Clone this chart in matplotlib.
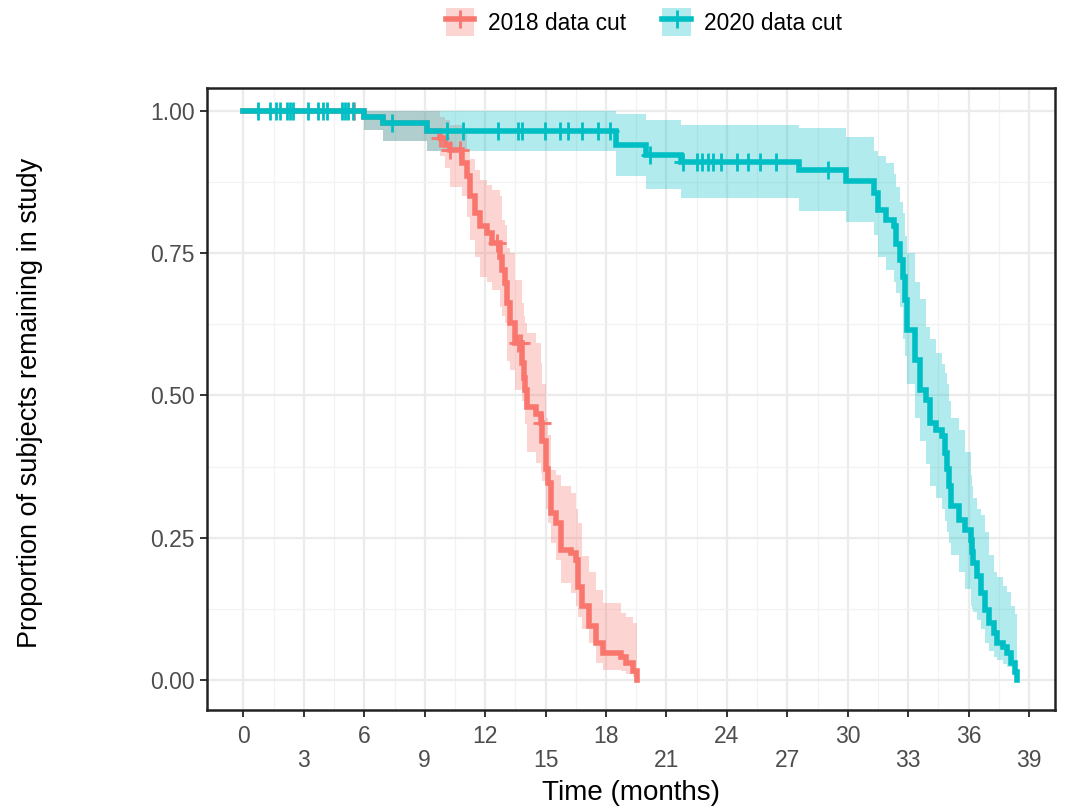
import numpy as np
import matplotlib
matplotlib.use('Agg')
import matplotlib.pyplot as plt
from matplotlib.patches import Patch
from matplotlib.lines import Line2D
from matplotlib.legend_handler import HandlerTuple

plt.rcParams['font.family'] = ['Liberation Sans', 'DejaVu Sans']

RED = '#F8766D'
TEAL = '#00BFC4'

# 2018 data cut: step times, survival, confidence limits
t18 = [0, 5.98, 6.93, 9.11, 9.75, 10.0, 10.25, 10.83, 11.08, 11.25, 11.5, 11.75, 12.08,
       12.33, 12.75, 12.83, 13.0, 13.08, 13.25, 13.5, 13.83, 13.92, 14.0, 14.08, 14.5,
       14.75, 14.83, 15.0, 15.1, 15.25, 15.5, 15.75, 16.25, 16.5, 16.6, 16.83, 17.17,
       17.5, 17.83, 18.75, 19.0, 19.35, 19.52]
s18 = [1.0, 0.99, 0.979, 0.965, 0.952, 0.94, 0.931, 0.908, 0.885, 0.85, 0.82, 0.797, 0.785,
       0.768, 0.744, 0.72, 0.697, 0.662, 0.627, 0.592, 0.557, 0.53, 0.51, 0.48, 0.468,
       0.451, 0.42, 0.37, 0.346, 0.293, 0.275, 0.228, 0.223, 0.211, 0.164, 0.129, 0.094,
       0.064, 0.047, 0.041, 0.029, 0.015, 0.0]
lo18 = [1.0, 0.967, 0.947, 0.93, 0.92, 0.90, 0.867, 0.85, 0.814, 0.773, 0.744, 0.709, 0.70,
        0.685, 0.656, 0.64, 0.627, 0.56, 0.545, 0.51, 0.49, 0.475, 0.45, 0.40, 0.381,
        0.363, 0.35, 0.30, 0.275, 0.24, 0.211, 0.17, 0.152, 0.13, 0.111, 0.09, 0.064,
        0.03, 0.018, 0.015, 0.01, 0.005, 0.005]
hi18 = [1.0, 1.0, 1.0, 1.0, 0.99, 0.985, 0.975, 0.96, 0.931, 0.915, 0.896, 0.879, 0.87,
        0.861, 0.85, 0.808, 0.80, 0.76, 0.75, 0.703, 0.662, 0.64, 0.627, 0.61, 0.592,
        0.557, 0.52, 0.46, 0.43, 0.369, 0.36, 0.34, 0.328, 0.30, 0.275, 0.217, 0.19,
        0.158, 0.135, 0.117, 0.11, 0.10, 0.10]
cens18 = [5.5, 9.77, 10.25, 10.75, 12.57, 13.64, 13.8, 14.8]

# 2020 data cut
t20 = [0, 5.98, 6.93, 9.11, 18.5, 20.0, 21.7, 27.6, 29.9, 31.3, 31.5, 31.9, 32.3, 32.4,
       32.6, 32.75, 32.85, 32.95, 33.35, 33.6, 33.9, 34.1, 34.4, 34.7, 34.85, 34.95,
       35.05, 35.15, 35.5, 35.8, 36.1, 36.15, 36.2, 36.4, 36.6, 36.8, 37.0, 37.25, 37.4,
       37.7, 37.9, 38.1, 38.3, 38.4]
s20 = [1.0, 0.99, 0.979, 0.965, 0.94, 0.923, 0.91, 0.897, 0.877, 0.855, 0.826, 0.808, 0.797,
       0.767, 0.738, 0.709, 0.668, 0.615, 0.562, 0.51, 0.492, 0.452, 0.44, 0.428, 0.399,
       0.37, 0.34, 0.305, 0.281, 0.264, 0.246, 0.225, 0.205, 0.182, 0.153, 0.123, 0.10,
       0.082, 0.065, 0.058, 0.047, 0.03, 0.014, 0.0]
lo20 = [1.0, 0.967, 0.947, 0.93, 0.886, 0.862, 0.847, 0.825, 0.805, 0.782, 0.744, 0.72, 0.70,
        0.68, 0.656, 0.60, 0.57, 0.52, 0.46, 0.42, 0.38, 0.34, 0.32, 0.30, 0.28, 0.26,
        0.24, 0.22, 0.19, 0.16, 0.13, 0.125, 0.12, 0.105, 0.09, 0.065, 0.05, 0.04, 0.035,
        0.028, 0.023, 0.023, 0.023, 0.023]
hi20 = [1.0, 1.0, 1.0, 1.0, 0.995, 0.985, 0.975, 0.97, 0.955, 0.93, 0.92, 0.908, 0.89,
        0.866, 0.84, 0.82, 0.78, 0.75, 0.70, 0.67, 0.62, 0.60, 0.575, 0.555, 0.54, 0.52,
        0.49, 0.46, 0.44, 0.40, 0.36, 0.34, 0.32, 0.30, 0.29, 0.26, 0.22, 0.19, 0.18,
        0.165, 0.155, 0.13, 0.115, 0.11]
cens20 = [0.73, 1.31, 1.61, 1.81, 2.17, 2.31, 2.47, 3.22, 3.72, 3.97, 4.13, 4.88, 5.04,
          5.21, 5.45, 7.36, 10.09, 10.91, 12.65, 13.64, 13.81, 14.97, 15.72, 16.13, 16.79,
          17.62, 18.2, 20.2, 21.8, 22.5, 22.75, 23.05, 23.3, 23.7, 24.5, 25.05, 25.65,
          26.45, 29.0]

xticks = list(range(0, 40, 3))
xlabels = [str(v) if v % 6 == 0 else '\n' + str(v) for v in xticks]
yticks = [0, 0.25, 0.5, 0.75, 1.0]
ylabels = ['0.00', '0.25', '0.50', '0.75', '1.00']

fig = plt.figure(figsize=(10.69, 8.08), dpi=100)
ax = fig.add_axes([207 / 1069, 1 - 710 / 808, 848 / 1069, 622 / 808])


def draw(t, s, lo, hi, cens, col, z):
    ax.fill_between(t, lo, hi, step='post', color=col, alpha=0.3, lw=0, zorder=z)
    ax.step(t, s, where='post', color=col, lw=4, zorder=z + 2, solid_joinstyle='miter')
    idx = np.searchsorted(t, cens, side='right') - 1
    ax.plot(cens, np.array(s)[idx], ls='none', marker='+', ms=13, mew=2,
            color=col, zorder=z + 2)


draw(t18, s18, lo18, hi18, cens18, RED, 2)
draw(t20, s20, lo20, hi20, cens20, TEAL, 3)

ax.set_xlim(-1.81, 40.29)
ax.set_ylim(-0.053, 1.0404)
ax.set_xticks(xticks)
ax.set_xticklabels(xlabels, linespacing=1.05)
ax.set_xticks(np.arange(1.5, 40, 3), minor=True)
ax.set_yticks(yticks)
ax.set_yticklabels(ylabels)
ax.set_yticks([0.125, 0.375, 0.625, 0.875], minor=True)
ax.grid(which='major', color='#EBEBEB', lw=1.6, zorder=0)
ax.grid(which='minor', color='#F2F2F2', lw=0.9, zorder=0)
ax.set_axisbelow(True)
ax.tick_params(which='major', direction='out', length=5, width=1.4, color='#333333',
               labelsize=16.5, labelcolor='#4D4D4D')
ax.tick_params(axis='x', pad=6)
ax.tick_params(axis='y', pad=4)
ax.tick_params(which='minor', length=0)
for sp in ax.spines.values():
    sp.set_color('#222222')
    sp.set_linewidth(1.8)

fig.text(631 / 1069, 1 - 793 / 808, 'Time (months)', ha='center', va='center', fontsize=20)
fig.text(30 / 1069, 1 - 403 / 808, 'Proportion of subjects remaining in study',
         ha='center', va='center', rotation=90, fontsize=19.5)

handles = []
for col in (RED, TEAL):
    handles.append((Patch(facecolor=col, alpha=0.3, lw=0),
                    Line2D([], [], color=col, lw=4, marker='+', ms=13, mew=2)))
fig.legend(handles, ['2018 data cut', '2020 data cut'], loc='center',
           bbox_to_anchor=(644 / 1069, 1 - 22 / 808), ncol=2, frameon=False,
           fontsize=16.4, handlelength=1.25, handleheight=1.5, handletextpad=0.6,
           columnspacing=1.6, handler_map={tuple: HandlerTuple(ndivide=1, pad=0)})

fig.savefig('out.png', dpi=100)
